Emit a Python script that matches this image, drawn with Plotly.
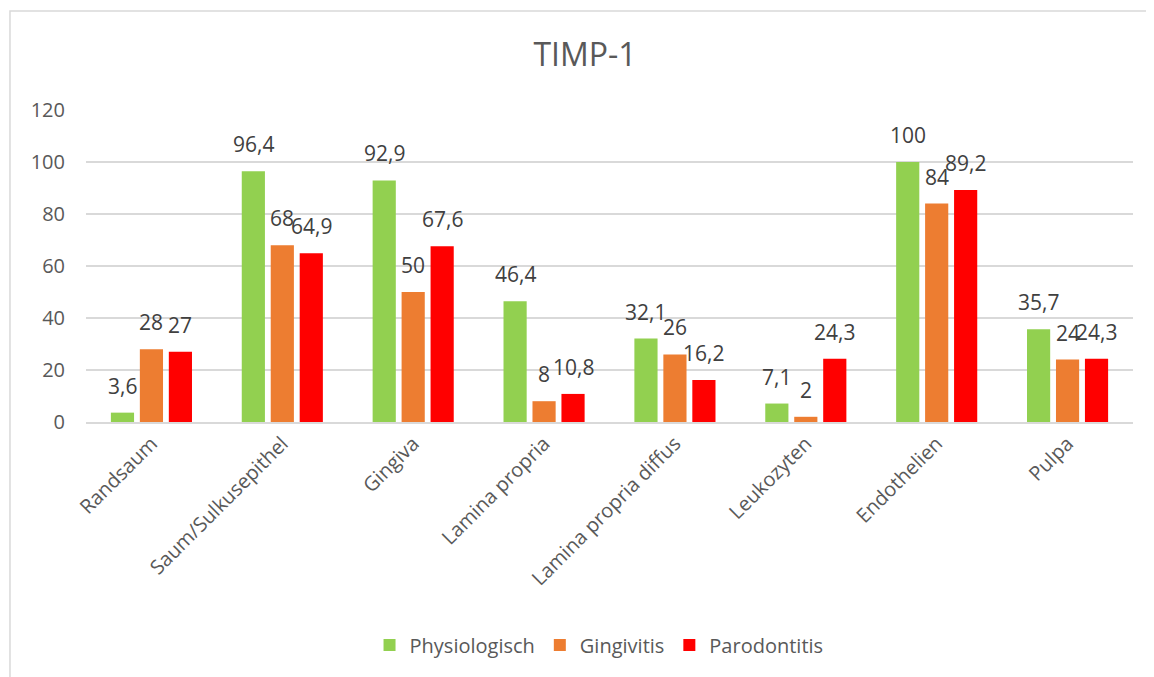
import plotly.graph_objects as go

categories = ["Randsaum", "Saum/Sulkusepithel", "Gingiva", "Lamina propria",
              "Lamina propria diffus", "Leukozyten", "Endothelien", "Pulpa"]
physiologisch = [3.6, 96.4, 92.9, 46.4, 32.1, 7.1, 100, 35.7]
gingivitis = [28, 68, 50, 8, 26, 2, 84, 24]
parodontitis = [27, 64.9, 67.6, 10.8, 16.2, 24.3, 89.2, 24.3]
y_ticks = [0, 20, 40, 60, 80, 100, 120]

series = [
    ("Physiologisch", physiologisch, "#92D050"),
    ("Gingivitis", gingivitis, "#ED7D31"),
    ("Parodontitis", parodontitis, "#FF0000"),
]
x_shifts = [-29, 0, 29]

FONT = "Open Sans"
TXT = "#595959"

def fmt(v):
    return ("%g" % v).replace(".", ",")

fig = go.Figure()
annotations = []
for (name, vals, color), xs in zip(series, x_shifts):
    fig.add_trace(go.Bar(
        x=categories, y=vals, name=name,
        marker=dict(color=color, line=dict(width=0)),
    ))
    for c, v in zip(categories, vals):
        annotations.append(dict(
            x=c, y=v, xref="x", yref="y", text=fmt(v), showarrow=False,
            xanchor="center", yanchor="bottom", xshift=xs, yshift=11,
            font=dict(family=FONT, size=21, color="#404040"),
        ))

fig.update_layout(
    width=1154, height=677,
    paper_bgcolor="white", plot_bgcolor="white",
    margin=dict(l=78, r=29, t=102, b=263),
    bargap=0.336, bargroupgap=0.2,
    title=dict(text="TIMP-1", x=0.5, xanchor="center", y=0.9306, yanchor="middle",
               font=dict(family=FONT, size=32, color=TXT)),
    font=dict(family=FONT, color=TXT),
    showlegend=True,
    legend=dict(orientation="h", x=0.49, xanchor="center", y=-0.715, yanchor="middle",
                font=dict(family=FONT, size=20, color=TXT), itemwidth=30,
                traceorder="normal"),
    xaxis=dict(tickangle=-45, tickfont=dict(family=FONT, size=20, color=TXT),
               showline=True, linecolor="#D9D9D9", linewidth=2, ticks="",
               showgrid=False),
    yaxis=dict(range=[0, 120], tickvals=y_ticks, tickfont=dict(family=FONT, size=20, color=TXT),
               showgrid=True, gridcolor="#D9D9D9", gridwidth=1.5, zeroline=False,
               ticks="", ticklabelstandoff=20),
    annotations=annotations,
    shapes=[dict(type="rect", xref="paper", yref="paper",
                 x0=-0.0726, x1=1.05, y0=-0.9, y1=1.317,
                 line=dict(color="#D9D9D9", width=1.5))],
)

fig.write_html("out.html")
